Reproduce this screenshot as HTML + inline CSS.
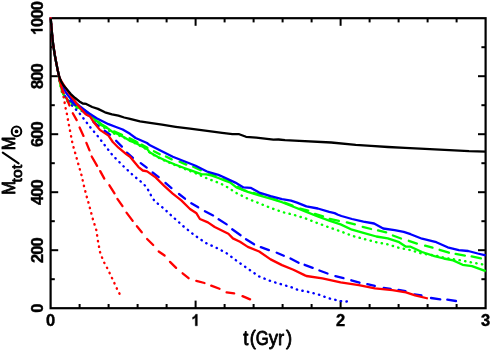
<!DOCTYPE html>
<html><head><meta charset="utf-8"><title>Mtot vs t</title>
<style>html,body{margin:0;padding:0;background:#fff;}svg{display:block;font-family:"Liberation Sans",sans-serif;}</style>
</head><body>
<svg width="491" height="351" viewBox="0 0 491 351">
<defs><filter id="soft" x="0" y="0" width="491" height="351" filterUnits="userSpaceOnUse"><feOffset dx="0" dy="0"/></filter></defs>
<rect width="491" height="351" fill="#fff"/>
<g filter="url(#soft)">
<rect x="50.6" y="18.2" width="435.0" height="290.0" fill="none" stroke="#000" stroke-width="2.2"/>
<line x1="79.6" y1="308.2" x2="79.6" y2="304.0" stroke="#000" stroke-width="2.0"/>
<line x1="79.6" y1="18.2" x2="79.6" y2="22.4" stroke="#000" stroke-width="2.0"/>
<line x1="108.6" y1="308.2" x2="108.6" y2="304.0" stroke="#000" stroke-width="2.0"/>
<line x1="108.6" y1="18.2" x2="108.6" y2="22.4" stroke="#000" stroke-width="2.0"/>
<line x1="137.6" y1="308.2" x2="137.6" y2="304.0" stroke="#000" stroke-width="2.0"/>
<line x1="137.6" y1="18.2" x2="137.6" y2="22.4" stroke="#000" stroke-width="2.0"/>
<line x1="166.6" y1="308.2" x2="166.6" y2="304.0" stroke="#000" stroke-width="2.0"/>
<line x1="166.6" y1="18.2" x2="166.6" y2="22.4" stroke="#000" stroke-width="2.0"/>
<line x1="195.6" y1="308.2" x2="195.6" y2="300.59999999999997" stroke="#000" stroke-width="2.0"/>
<line x1="195.6" y1="18.2" x2="195.6" y2="25.799999999999997" stroke="#000" stroke-width="2.0"/>
<line x1="224.6" y1="308.2" x2="224.6" y2="304.0" stroke="#000" stroke-width="2.0"/>
<line x1="224.6" y1="18.2" x2="224.6" y2="22.4" stroke="#000" stroke-width="2.0"/>
<line x1="253.6" y1="308.2" x2="253.6" y2="304.0" stroke="#000" stroke-width="2.0"/>
<line x1="253.6" y1="18.2" x2="253.6" y2="22.4" stroke="#000" stroke-width="2.0"/>
<line x1="282.6" y1="308.2" x2="282.6" y2="304.0" stroke="#000" stroke-width="2.0"/>
<line x1="282.6" y1="18.2" x2="282.6" y2="22.4" stroke="#000" stroke-width="2.0"/>
<line x1="311.6" y1="308.2" x2="311.6" y2="304.0" stroke="#000" stroke-width="2.0"/>
<line x1="311.6" y1="18.2" x2="311.6" y2="22.4" stroke="#000" stroke-width="2.0"/>
<line x1="340.6" y1="308.2" x2="340.6" y2="300.59999999999997" stroke="#000" stroke-width="2.0"/>
<line x1="340.6" y1="18.2" x2="340.6" y2="25.799999999999997" stroke="#000" stroke-width="2.0"/>
<line x1="369.6" y1="308.2" x2="369.6" y2="304.0" stroke="#000" stroke-width="2.0"/>
<line x1="369.6" y1="18.2" x2="369.6" y2="22.4" stroke="#000" stroke-width="2.0"/>
<line x1="398.6" y1="308.2" x2="398.6" y2="304.0" stroke="#000" stroke-width="2.0"/>
<line x1="398.6" y1="18.2" x2="398.6" y2="22.4" stroke="#000" stroke-width="2.0"/>
<line x1="427.6" y1="308.2" x2="427.6" y2="304.0" stroke="#000" stroke-width="2.0"/>
<line x1="427.6" y1="18.2" x2="427.6" y2="22.4" stroke="#000" stroke-width="2.0"/>
<line x1="456.6" y1="308.2" x2="456.6" y2="304.0" stroke="#000" stroke-width="2.0"/>
<line x1="456.6" y1="18.2" x2="456.6" y2="22.4" stroke="#000" stroke-width="2.0"/>
<line x1="50.6" y1="279.2" x2="54.800000000000004" y2="279.2" stroke="#000" stroke-width="2.0"/>
<line x1="485.6" y1="279.2" x2="481.40000000000003" y2="279.2" stroke="#000" stroke-width="2.0"/>
<line x1="50.6" y1="250.2" x2="58.2" y2="250.2" stroke="#000" stroke-width="2.0"/>
<line x1="485.6" y1="250.2" x2="478.0" y2="250.2" stroke="#000" stroke-width="2.0"/>
<line x1="50.6" y1="221.2" x2="54.800000000000004" y2="221.2" stroke="#000" stroke-width="2.0"/>
<line x1="485.6" y1="221.2" x2="481.40000000000003" y2="221.2" stroke="#000" stroke-width="2.0"/>
<line x1="50.6" y1="192.2" x2="58.2" y2="192.2" stroke="#000" stroke-width="2.0"/>
<line x1="485.6" y1="192.2" x2="478.0" y2="192.2" stroke="#000" stroke-width="2.0"/>
<line x1="50.6" y1="163.2" x2="54.800000000000004" y2="163.2" stroke="#000" stroke-width="2.0"/>
<line x1="485.6" y1="163.2" x2="481.40000000000003" y2="163.2" stroke="#000" stroke-width="2.0"/>
<line x1="50.6" y1="134.2" x2="58.2" y2="134.2" stroke="#000" stroke-width="2.0"/>
<line x1="485.6" y1="134.2" x2="478.0" y2="134.2" stroke="#000" stroke-width="2.0"/>
<line x1="50.6" y1="105.2" x2="54.800000000000004" y2="105.2" stroke="#000" stroke-width="2.0"/>
<line x1="485.6" y1="105.2" x2="481.40000000000003" y2="105.2" stroke="#000" stroke-width="2.0"/>
<line x1="50.6" y1="76.2" x2="58.2" y2="76.2" stroke="#000" stroke-width="2.0"/>
<line x1="485.6" y1="76.2" x2="478.0" y2="76.2" stroke="#000" stroke-width="2.0"/>
<line x1="50.6" y1="47.2" x2="54.800000000000004" y2="47.2" stroke="#000" stroke-width="2.0"/>
<line x1="485.6" y1="47.2" x2="481.40000000000003" y2="47.2" stroke="#000" stroke-width="2.0"/>
<polyline points="50.7,18.3 51.7,30.0 52.7,41.0 53.7,48.0 54.7,54.5 55.7,60.0 56.8,65.6 57.9,71.0 58.8,75.0 58.9,78.0 59.6,82.0 60.5,86.0 61.3,90.0 62.5,94.0 64.5,97.8 68.0,102.0 73.5,106.0 80.0,110.0 84.0,112.2 92.0,117.8 101.4,126.0 112.8,133.0 124.2,137.8 135.6,143.5 147.0,149.5 150.0,153.0 161.4,159.2 172.8,164.2 184.2,168.8 195.0,173.0 201.3,175.8 208.1,178.8 214.1,181.2 219.2,183.0 225.2,185.8 236.4,193.0 247.8,198.7 259.2,203.3 270.6,207.9 282.0,212.0 293.4,214.7 306.4,218.7 317.8,223.3 329.2,227.4 340.6,231.3 352.0,235.8 363.4,238.8 376.4,242.2 387.8,244.4 399.2,247.9 410.6,250.1 422.0,253.6 436.3,255.7 443.8,257.6 451.3,258.9 458.8,260.0 466.4,261.4 473.9,262.9 481.4,264.2 485.7,265.1" fill="none" stroke="#00ff00" stroke-width="2.4" stroke-dasharray="0.4 5.3" stroke-dashoffset="0" stroke-linejoin="round" stroke-linecap="round"/>
<polyline points="72.5,103.1 74.0,104.2 77.5,106.3" fill="none" stroke="#00ff00" stroke-width="2.3" stroke-linejoin="round" stroke-linecap="round"/>
<polyline points="84.4,110.3 90.6,114.8" fill="none" stroke="#00ff00" stroke-width="2.3" stroke-linejoin="round" stroke-linecap="round"/>
<polyline points="98.4,121.6 101.4,124.2 106.6,127.2" fill="none" stroke="#00ff00" stroke-width="2.3" stroke-linejoin="round" stroke-linecap="round"/>
<polyline points="114.0,131.4 122.0,134.7" fill="none" stroke="#00ff00" stroke-width="2.3" stroke-linejoin="round" stroke-linecap="round"/>
<polyline points="129.5,138.3 135.6,141.4 137.5,142.4" fill="none" stroke="#00ff00" stroke-width="2.3" stroke-linejoin="round" stroke-linecap="round"/>
<polyline points="141.5,144.6 147.0,147.6 147.5,147.9" fill="none" stroke="#00ff00" stroke-width="2.3" stroke-linejoin="round" stroke-linecap="round"/>
<polyline points="153.9,151.3 159.8,154.3" fill="none" stroke="#00ff00" stroke-width="2.3" stroke-linejoin="round" stroke-linecap="round"/>
<polyline points="165.9,156.5 171.7,159.4" fill="none" stroke="#00ff00" stroke-width="2.3" stroke-linejoin="round" stroke-linecap="round"/>
<polyline points="179.6,161.6 186.3,164.6" fill="none" stroke="#00ff00" stroke-width="2.3" stroke-linejoin="round" stroke-linecap="round"/>
<polyline points="193.2,166.7 200.8,170.2" fill="none" stroke="#00ff00" stroke-width="2.3" stroke-linejoin="round" stroke-linecap="round"/>
<polyline points="208.5,172.8 209.0,173.0 215.5,175.6" fill="none" stroke="#00ff00" stroke-width="2.3" stroke-linejoin="round" stroke-linecap="round"/>
<polyline points="223.5,178.8 224.0,179.0 230.0,181.8 230.5,182.1" fill="none" stroke="#00ff00" stroke-width="2.3" stroke-linejoin="round" stroke-linecap="round"/>
<polyline points="238.0,186.8 243.0,190.0 246.0,190.8" fill="none" stroke="#00ff00" stroke-width="2.3" stroke-linejoin="round" stroke-linecap="round"/>
<polyline points="253.5,192.9 259.2,194.5 261.5,195.2" fill="none" stroke="#00ff00" stroke-width="2.3" stroke-linejoin="round" stroke-linecap="round"/>
<polyline points="269.0,197.5 270.6,198.0 277.0,200.1" fill="none" stroke="#00ff00" stroke-width="2.3" stroke-linejoin="round" stroke-linecap="round"/>
<polyline points="284.5,202.7 292.5,205.5" fill="none" stroke="#00ff00" stroke-width="2.3" stroke-linejoin="round" stroke-linecap="round"/>
<polyline points="300.1,208.6 308.2,210.7" fill="none" stroke="#00ff00" stroke-width="2.3" stroke-linejoin="round" stroke-linecap="round"/>
<polyline points="314.9,213.9 323.0,216.3" fill="none" stroke="#00ff00" stroke-width="2.3" stroke-linejoin="round" stroke-linecap="round"/>
<polyline points="329.7,218.8 338.9,220.9" fill="none" stroke="#00ff00" stroke-width="2.3" stroke-linejoin="round" stroke-linecap="round"/>
<polyline points="346.8,222.3 354.9,224.3" fill="none" stroke="#00ff00" stroke-width="2.3" stroke-linejoin="round" stroke-linecap="round"/>
<polyline points="362.7,226.8 371.1,229.0" fill="none" stroke="#00ff00" stroke-width="2.3" stroke-linejoin="round" stroke-linecap="round"/>
<polyline points="378.0,230.4 386.2,232.3" fill="none" stroke="#00ff00" stroke-width="2.3" stroke-linejoin="round" stroke-linecap="round"/>
<polyline points="392.9,235.5 401.0,238.5" fill="none" stroke="#00ff00" stroke-width="2.3" stroke-linejoin="round" stroke-linecap="round"/>
<polyline points="408.8,240.8 416.9,243.6" fill="none" stroke="#00ff00" stroke-width="2.3" stroke-linejoin="round" stroke-linecap="round"/>
<polyline points="425.1,245.7 432.5,247.7" fill="none" stroke="#00ff00" stroke-width="2.3" stroke-linejoin="round" stroke-linecap="round"/>
<polyline points="439.6,249.8 448.9,252.7" fill="none" stroke="#00ff00" stroke-width="2.3" stroke-linejoin="round" stroke-linecap="round"/>
<polyline points="455.6,253.9 464.9,255.6" fill="none" stroke="#00ff00" stroke-width="2.3" stroke-linejoin="round" stroke-linecap="round"/>
<polyline points="471.6,256.4 480.9,258.4" fill="none" stroke="#00ff00" stroke-width="2.3" stroke-linejoin="round" stroke-linecap="round"/>
<polyline points="50.7,18.3 51.7,30.0 52.7,41.0 53.7,48.0 54.7,54.5 55.7,60.0 56.8,65.6 57.9,71.0 58.8,75.0 59.0,78.0 59.8,82.0 60.8,86.0 61.8,90.0 63.2,94.0 65.5,97.5 69.0,101.0 74.0,104.7 80.0,108.5 84.0,110.8 92.0,116.8 97.1,121.4 101.4,125.3 108.5,128.8 112.8,132.2 117.0,133.8 124.2,137.2 130.0,140.9 135.6,142.9 147.0,148.9 150.0,152.6 158.0,157.0 167.1,161.2 175.0,164.5 184.2,168.0 193.0,171.2 201.3,174.2 206.4,174.3 212.0,175.6 218.4,178.0 225.0,180.6 230.0,182.4 236.4,187.4 247.8,191.9 259.2,195.3 270.6,198.7 282.0,202.2 293.4,206.7 306.4,211.9 317.8,216.5 329.2,220.6 340.6,224.4 352.0,229.7 363.4,232.9 376.4,236.5 387.8,238.3 399.2,242.2 406.0,246.7 410.6,246.7 422.0,252.0 434.4,256.1 443.8,258.5 453.2,260.4 462.6,264.8 472.0,266.1 479.5,268.9 485.7,271.1" fill="none" stroke="#00ff00" stroke-width="2.3" stroke-linejoin="round"/>
<polyline points="50.7,18.3 51.7,30.0 52.7,41.0 53.7,48.0 54.7,54.5 55.7,60.0 56.8,65.6 57.9,71.0 58.8,75.0 58.9,78.0 60.1,82.0 61.5,86.5 62.5,91.0 64.5,95.5 67.5,100.0 72.0,105.5 79.0,112.7 83.6,118.5 90.7,127.8 98.5,137.0 105.6,146.3 112.8,155.6 124.2,167.0 132.6,174.8 137.7,179.1 142.0,182.5 146.2,186.8 148.8,191.0 151.4,196.2 154.8,201.3 159.1,204.7 163.3,208.1 171.4,215.6 182.8,225.8 194.2,235.0 205.6,242.9 218.1,248.6 227.3,253.7 236.4,260.6 247.8,268.6 259.2,276.5 270.6,281.1 282.0,284.5 293.4,287.9 297.3,289.7 308.7,292.0 317.8,294.3 329.2,298.4 340.6,301.1 348.6,301.6" fill="none" stroke="#0000ff" stroke-width="2.4" stroke-dasharray="0.4 5.3" stroke-dashoffset="0" stroke-linejoin="round" stroke-linecap="round"/>
<polyline points="70.4,100.5 72.5,102.5 75.6,105.1" fill="none" stroke="#0000ff" stroke-width="2.3" stroke-linejoin="round" stroke-linecap="round"/>
<polyline points="82.4,110.9 87.6,115.1" fill="none" stroke="#0000ff" stroke-width="2.3" stroke-linejoin="round" stroke-linecap="round"/>
<polyline points="93.4,121.9 98.6,126.1" fill="none" stroke="#0000ff" stroke-width="2.3" stroke-linejoin="round" stroke-linecap="round"/>
<polyline points="104.6,130.8 110.1,134.7" fill="none" stroke="#0000ff" stroke-width="2.3" stroke-linejoin="round" stroke-linecap="round"/>
<polyline points="116.1,140.8 121.9,146.6" fill="none" stroke="#0000ff" stroke-width="2.3" stroke-linejoin="round" stroke-linecap="round"/>
<polyline points="126.9,152.6 132.9,157.9" fill="none" stroke="#0000ff" stroke-width="2.3" stroke-linejoin="round" stroke-linecap="round"/>
<polyline points="140.7,163.1 146.7,167.6" fill="none" stroke="#0000ff" stroke-width="2.3" stroke-linejoin="round" stroke-linecap="round"/>
<polyline points="152.6,172.5 158.7,177.1" fill="none" stroke="#0000ff" stroke-width="2.3" stroke-linejoin="round" stroke-linecap="round"/>
<polyline points="165.4,182.9 171.5,188.1" fill="none" stroke="#0000ff" stroke-width="2.3" stroke-linejoin="round" stroke-linecap="round"/>
<polyline points="179.0,194.0 185.0,198.7" fill="none" stroke="#0000ff" stroke-width="2.3" stroke-linejoin="round" stroke-linecap="round"/>
<polyline points="191.3,203.3 198.2,207.3" fill="none" stroke="#0000ff" stroke-width="2.3" stroke-linejoin="round" stroke-linecap="round"/>
<polyline points="204.9,211.2 213.1,215.4" fill="none" stroke="#0000ff" stroke-width="2.3" stroke-linejoin="round" stroke-linecap="round"/>
<polyline points="218.6,219.3 226.7,224.4" fill="none" stroke="#0000ff" stroke-width="2.3" stroke-linejoin="round" stroke-linecap="round"/>
<polyline points="232.2,229.3 240.6,235.2" fill="none" stroke="#0000ff" stroke-width="2.3" stroke-linejoin="round" stroke-linecap="round"/>
<polyline points="246.0,239.2 254.1,244.3" fill="none" stroke="#0000ff" stroke-width="2.3" stroke-linejoin="round" stroke-linecap="round"/>
<polyline points="260.8,247.1 268.9,250.1" fill="none" stroke="#0000ff" stroke-width="2.3" stroke-linejoin="round" stroke-linecap="round"/>
<polyline points="276.8,252.8 283.8,255.8" fill="none" stroke="#0000ff" stroke-width="2.3" stroke-linejoin="round" stroke-linecap="round"/>
<polyline points="290.5,258.5 298.6,262.7" fill="none" stroke="#0000ff" stroke-width="2.3" stroke-linejoin="round" stroke-linecap="round"/>
<polyline points="304.6,264.8 312.7,267.8" fill="none" stroke="#0000ff" stroke-width="2.3" stroke-linejoin="round" stroke-linecap="round"/>
<polyline points="319.4,270.5 327.5,273.5" fill="none" stroke="#0000ff" stroke-width="2.3" stroke-linejoin="round" stroke-linecap="round"/>
<polyline points="335.4,276.1 343.5,278.2" fill="none" stroke="#0000ff" stroke-width="2.3" stroke-linejoin="round" stroke-linecap="round"/>
<polyline points="351.3,280.3 359.5,282.7" fill="none" stroke="#0000ff" stroke-width="2.3" stroke-linejoin="round" stroke-linecap="round"/>
<polyline points="367.3,284.1 374.8,285.9" fill="none" stroke="#0000ff" stroke-width="2.3" stroke-linejoin="round" stroke-linecap="round"/>
<polyline points="383.7,288.0 390.7,288.9" fill="none" stroke="#0000ff" stroke-width="2.3" stroke-linejoin="round" stroke-linecap="round"/>
<polyline points="398.5,289.8 405.5,291.2" fill="none" stroke="#0000ff" stroke-width="2.3" stroke-linejoin="round" stroke-linecap="round"/>
<polyline points="414.5,294.3 421.5,295.3" fill="none" stroke="#0000ff" stroke-width="2.3" stroke-linejoin="round" stroke-linecap="round"/>
<polyline points="431.0,298.0 440.3,299.3" fill="none" stroke="#0000ff" stroke-width="2.3" stroke-linejoin="round" stroke-linecap="round"/>
<polyline points="447.3,299.7 456.0,301.0" fill="none" stroke="#0000ff" stroke-width="2.3" stroke-linejoin="round" stroke-linecap="round"/>
<polyline points="50.7,18.3 51.7,30.0 52.7,41.0 53.7,48.0 54.7,54.5 55.7,60.0 56.8,65.6 57.9,71.0 58.8,75.0 59.2,77.5 60.8,81.5 62.8,86.0 64.6,90.0 66.8,93.8 70.0,97.8 73.0,100.5 76.0,103.0 80.0,106.3 88.5,113.0 97.1,118.5 108.5,124.2 116.0,127.0 122.7,129.5 130.0,133.8 135.6,138.0 147.0,143.0 150.0,145.3 161.4,151.0 172.8,156.7 184.2,161.2 195.6,165.8 207.0,171.5 218.4,174.9 225.0,177.8 235.3,182.6 243.5,187.4 250.6,187.8 259.2,192.6 270.6,196.2 282.0,199.2 291.0,200.6 297.0,202.6 306.4,206.4 317.8,208.5 329.2,211.9 334.6,213.1 338.0,214.7 341.4,216.0 352.0,219.0 363.4,221.7 374.1,223.5 383.2,228.5 394.6,230.1 403.7,231.9 410.6,234.2 422.0,238.7 436.3,242.2 447.6,247.3 458.8,250.1 468.2,251.0 477.7,253.5 485.7,255.4" fill="none" stroke="#0000ff" stroke-width="2.3" stroke-linejoin="round"/>
<polyline points="50.7,18.3 51.7,30.0 52.7,41.0 53.7,48.0 54.7,54.5 55.7,60.0 56.8,65.6 57.9,71.0 58.8,75.0 59.2,78.0 60.1,82.0 61.1,86.0 62.0,90.3 62.8,93.3 63.7,97.4 64.7,103.0 65.8,109.2 66.8,113.4 68.5,122.8 70.3,132.2 72.3,142.5 74.5,151.0 75.4,153.6 78.5,164.7 81.7,175.9 84.2,187.0 87.1,198.1 88.4,202.4 93.0,219.6 96.3,230.0 98.1,242.0 100.0,252.0 103.3,261.0 107.8,269.2 112.2,278.5 117.0,288.8 120.6,295.8" fill="none" stroke="#ff0000" stroke-width="2.4" stroke-dasharray="0.4 5.3" stroke-dashoffset="0" stroke-linejoin="round" stroke-linecap="round"/>
<polyline points="59.1,77.1 59.3,78.0 60.2,82.0 61.3,86.0 62.4,90.0 63.8,93.2" fill="none" stroke="#ff0000" stroke-width="2.3" stroke-linejoin="round" stroke-linecap="round"/>
<polyline points="66.5,97.9 69.5,105.5" fill="none" stroke="#ff0000" stroke-width="2.3" stroke-linejoin="round" stroke-linecap="round"/>
<polyline points="72.8,113.3 76.7,120.1" fill="none" stroke="#ff0000" stroke-width="2.3" stroke-linejoin="round" stroke-linecap="round"/>
<polyline points="79.6,127.5 83.5,135.9" fill="none" stroke="#ff0000" stroke-width="2.3" stroke-linejoin="round" stroke-linecap="round"/>
<polyline points="86.4,142.9 89.5,150.4" fill="none" stroke="#ff0000" stroke-width="2.3" stroke-linejoin="round" stroke-linecap="round"/>
<polyline points="91.7,156.5 97.1,165.8" fill="none" stroke="#ff0000" stroke-width="2.3" stroke-linejoin="round" stroke-linecap="round"/>
<polyline points="100.2,171.1 104.3,178.6" fill="none" stroke="#ff0000" stroke-width="2.3" stroke-linejoin="round" stroke-linecap="round"/>
<polyline points="109.4,185.3 114.5,193.4" fill="none" stroke="#ff0000" stroke-width="2.3" stroke-linejoin="round" stroke-linecap="round"/>
<polyline points="117.4,198.9 122.5,206.1" fill="none" stroke="#ff0000" stroke-width="2.3" stroke-linejoin="round" stroke-linecap="round"/>
<polyline points="126.5,212.6 132.7,220.9" fill="none" stroke="#ff0000" stroke-width="2.3" stroke-linejoin="round" stroke-linecap="round"/>
<polyline points="136.9,226.2 141.8,232.3" fill="none" stroke="#ff0000" stroke-width="2.3" stroke-linejoin="round" stroke-linecap="round"/>
<polyline points="147.1,239.0 153.2,245.0" fill="none" stroke="#ff0000" stroke-width="2.3" stroke-linejoin="round" stroke-linecap="round"/>
<polyline points="158.7,251.5 164.6,255.5" fill="none" stroke="#ff0000" stroke-width="2.3" stroke-linejoin="round" stroke-linecap="round"/>
<polyline points="170.0,261.9 176.1,267.9" fill="none" stroke="#ff0000" stroke-width="2.3" stroke-linejoin="round" stroke-linecap="round"/>
<polyline points="182.6,273.3 188.6,278.2" fill="none" stroke="#ff0000" stroke-width="2.3" stroke-linejoin="round" stroke-linecap="round"/>
<polyline points="196.3,280.9 204.5,283.0" fill="none" stroke="#ff0000" stroke-width="2.3" stroke-linejoin="round" stroke-linecap="round"/>
<polyline points="211.2,285.6 219.5,288.8" fill="none" stroke="#ff0000" stroke-width="2.3" stroke-linejoin="round" stroke-linecap="round"/>
<polyline points="226.6,292.4 234.2,293.4" fill="none" stroke="#ff0000" stroke-width="2.3" stroke-linejoin="round" stroke-linecap="round"/>
<polyline points="242.5,296.1 250.1,299.4" fill="none" stroke="#ff0000" stroke-width="2.3" stroke-linejoin="round" stroke-linecap="round"/>
<polyline points="50.7,18.3 51.7,30.0 52.7,41.0 53.7,48.0 54.7,54.5 55.7,60.0 56.8,65.6 57.9,71.0 58.8,75.0 59.3,77.3 61.0,80.5 63.5,84.5 66.3,89.0 69.1,93.4 72.5,98.0 76.0,102.7 80.0,107.8 85.7,114.2 90.0,116.4 94.2,122.8 99.9,129.9 108.5,135.6 112.8,142.0 118.5,147.7 126.5,154.4 130.0,156.8 138.5,167.1 142.8,170.5 147.1,171.4 155.6,177.4 164.2,185.9 172.7,193.6 181.3,200.4 190.0,209.0 196.5,213.3 199.9,219.0 207.9,222.4 214.7,227.0 228.4,233.8 232.9,238.4 240.0,241.8 247.8,246.9 259.2,251.5 270.6,259.4 282.0,265.1 293.4,269.7 305.0,275.4 306.4,276.0 322.4,278.3 340.6,282.4 358.8,285.1 375.0,288.4 392.4,290.1 406.0,292.4 415.1,295.4 427.9,298.5" fill="none" stroke="#ff0000" stroke-width="2.3" stroke-linejoin="round"/>
<polyline points="50.7,18.3 51.7,30.0 52.7,41.0 53.7,48.0 54.7,54.5 55.7,60.0 56.8,65.6 57.9,71.0 59.0,75.6 60.3,79.5 61.8,82.7 63.8,85.8 66.8,89.3 70.8,94.1 75.1,98.0 79.4,101.4 82.8,103.5 86.2,103.9 92.2,107.0 98.0,108.9 105.0,112.3 112.0,114.3 118.4,115.7 124.2,117.5 130.0,118.9 140.0,121.3 150.0,122.9 162.0,124.7 175.6,126.8 190.0,128.7 209.0,131.2 222.1,132.8 232.4,134.1 239.2,134.2 246.0,136.8 256.3,137.7 273.4,139.7 278.5,139.5 285.0,140.2 294.5,140.6 331.2,142.5 355.7,144.9 371.0,145.9 388.0,147.0 405.0,147.8 420.0,148.6 444.5,149.9 469.0,151.2 485.7,151.7" fill="none" stroke="#000" stroke-width="2.3" stroke-linejoin="round"/>
<g transform="translate(50.6,325.8) scale(1,1.07)"><text transform="translate(0.00,0) scale(1.1,1)" x="-4.17" y="0" font-size="15" font-weight="bold" stroke="#000" stroke-width="0.4">0</text></g>
<g transform="translate(195.6,325.8) scale(1,1.07)"><path d="M806 0H525V1057Q371 913 162 844V1098Q272 1134 401 1234.5T578 1469H806Z" transform="translate(-4.17,0) scale(0.00732,-0.00732)" stroke="#000" stroke-width="55"/></g>
<g transform="translate(340.6,325.8) scale(1,1.07)"><text transform="translate(0.00,0) scale(1.1,1)" x="-4.17" y="0" font-size="15" font-weight="bold" stroke="#000" stroke-width="0.4">2</text></g>
<g transform="translate(485.6,325.8) scale(1,1.07)"><text transform="translate(0.00,0) scale(1.1,1)" x="-4.17" y="0" font-size="15" font-weight="bold" stroke="#000" stroke-width="0.4">3</text></g>
<g transform="translate(42.5,308.2) rotate(-90) scale(1,1.07)"><text transform="translate(0.00,0) scale(1.1,1)" x="-4.17" y="0" font-size="15" font-weight="bold" stroke="#000" stroke-width="0.4">0</text></g>
<g transform="translate(42.5,250.2) rotate(-90) scale(1,1.07)"><text transform="translate(-8.34,0) scale(1.1,1)" x="-4.17" y="0" font-size="15" font-weight="bold" stroke="#000" stroke-width="0.4">2</text><text transform="translate(0.00,0) scale(1.1,1)" x="-4.17" y="0" font-size="15" font-weight="bold" stroke="#000" stroke-width="0.4">0</text><text transform="translate(8.34,0) scale(1.1,1)" x="-4.17" y="0" font-size="15" font-weight="bold" stroke="#000" stroke-width="0.4">0</text></g>
<g transform="translate(42.5,192.2) rotate(-90) scale(1,1.07)"><text transform="translate(-8.34,0) scale(1.1,1)" x="-4.17" y="0" font-size="15" font-weight="bold" stroke="#000" stroke-width="0.4">4</text><text transform="translate(0.00,0) scale(1.1,1)" x="-4.17" y="0" font-size="15" font-weight="bold" stroke="#000" stroke-width="0.4">0</text><text transform="translate(8.34,0) scale(1.1,1)" x="-4.17" y="0" font-size="15" font-weight="bold" stroke="#000" stroke-width="0.4">0</text></g>
<g transform="translate(42.5,134.2) rotate(-90) scale(1,1.07)"><text transform="translate(-8.34,0) scale(1.1,1)" x="-4.17" y="0" font-size="15" font-weight="bold" stroke="#000" stroke-width="0.4">6</text><text transform="translate(0.00,0) scale(1.1,1)" x="-4.17" y="0" font-size="15" font-weight="bold" stroke="#000" stroke-width="0.4">0</text><text transform="translate(8.34,0) scale(1.1,1)" x="-4.17" y="0" font-size="15" font-weight="bold" stroke="#000" stroke-width="0.4">0</text></g>
<g transform="translate(42.5,76.2) rotate(-90) scale(1,1.07)"><text transform="translate(-8.34,0) scale(1.1,1)" x="-4.17" y="0" font-size="15" font-weight="bold" stroke="#000" stroke-width="0.4">8</text><text transform="translate(0.00,0) scale(1.1,1)" x="-4.17" y="0" font-size="15" font-weight="bold" stroke="#000" stroke-width="0.4">0</text><text transform="translate(8.34,0) scale(1.1,1)" x="-4.17" y="0" font-size="15" font-weight="bold" stroke="#000" stroke-width="0.4">0</text></g>
<g transform="translate(42.5,18.2) rotate(-90) scale(1,1.07)"><path d="M806 0H525V1057Q371 913 162 844V1098Q272 1134 401 1234.5T578 1469H806Z" transform="translate(-16.68,0) scale(0.00732,-0.00732)" stroke="#000" stroke-width="55"/><text transform="translate(-4.17,0) scale(1.1,1)" x="-4.17" y="0" font-size="15" font-weight="bold" stroke="#000" stroke-width="0.4">0</text><text transform="translate(4.17,0) scale(1.1,1)" x="-4.17" y="0" font-size="15" font-weight="bold" stroke="#000" stroke-width="0.4">0</text><text transform="translate(12.51,0) scale(1.1,1)" x="-4.17" y="0" font-size="15" font-weight="bold" stroke="#000" stroke-width="0.4">0</text></g>
<text transform="translate(243.2,344.6) scale(1,1.05)" font-size="18.4" stroke="#000" stroke-width="0.75" stroke-linejoin="round">t</text>
<text transform="translate(249.7,344.6) scale(1,1.05)" font-size="18.4" stroke="#000" stroke-width="0.75" stroke-linejoin="round">(</text>
<text transform="translate(255.8,344.6) scale(0.91,1.05)" font-size="18.4" stroke="#000" stroke-width="0.75" stroke-linejoin="round">G</text>
<text transform="translate(268.7,344.6) scale(1,1.05)" font-size="18.4" stroke="#000" stroke-width="0.75" stroke-linejoin="round">y</text>
<text transform="translate(278.1,344.6) scale(1,1.05)" font-size="18.4" stroke="#000" stroke-width="0.75" stroke-linejoin="round">r</text>
<text transform="translate(285.9,344.6) scale(1,1.05)" font-size="18.4" stroke="#000" stroke-width="0.75" stroke-linejoin="round">)</text>
<g transform="translate(14.8,194.8) rotate(-90)" stroke="#000" stroke-width="0.6" stroke-linejoin="round"><text x="0" y="0" font-size="18.3" transform="scale(0.9,1)" stroke-width="1.0">M</text><text x="12.3" y="7.0" font-size="15.5" letter-spacing="0.3" stroke-width="0.85">tot</text><text x="49.6" y="0" font-size="18.3" transform="scale(0.9,1)" stroke-width="1.0">M</text><line x1="31.4" y1="3.8" x2="42.2" y2="-12.0" stroke-width="2.1" stroke-linecap="round"/><circle cx="63.4" cy="1.7" r="4.8" fill="none" stroke-width="2.0"/><circle cx="63.4" cy="1.7" r="1.9" stroke="none"/></g>
</g>
</svg>
</body></html>
